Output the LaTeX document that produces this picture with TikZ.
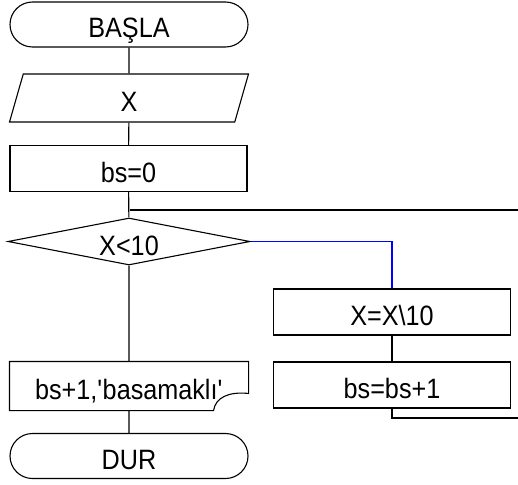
\documentclass[tikz,border=0pt]{standalone}
\usepackage{fontspec}
\setmainfont{Liberation Sans}[FakeStretch=0.9]
\usetikzlibrary{shapes}

\begin{document}
\begin{tikzpicture}[x=1pt, y=1pt, line width=1.1pt,
		every node/.style={font=\fontsize{28}{32}\selectfont, inner sep=0pt, text height=27pt, text depth=0pt},
		terminal/.style={draw, rounded rectangle, minimum width=238pt, minimum height=45pt},
		io/.style={draw, trapezium, trapezium left angle=63, trapezium right angle=117, trapezium stretches body, minimum width=239pt, minimum height=48pt},
		process/.style={draw, rectangle, minimum width=237pt, minimum height=46pt},
		decision/.style={draw, diamond, aspect=5.1, minimum width=242pt, minimum height=47pt},
		document/.style={rectangle, minimum width=238pt, minimum height=48pt}]
		\useasboundingbox (0, 0) rectangle (518, -484);
		\clip (0, 0) rectangle (518, -484);

		\node[terminal] (start) at (129, -24.5) {BAŞLA};
		\node[io] (input) at (129, -98) {X};
		\node[process] (init) at (128.5, -168.5) {bs=0};
		\node[decision] (cond) at (129, -241.5) {X<10};
		\node[process] (divide) at (392, -312) {X=X\textbackslash 10};
		\node[process] (count) at (392, -385) {bs=bs+1};
		\node[document] (out) at (129, -386) {bs+1,\textquotesingle basamaklı\textquotesingle};
		\node[terminal] (stop) at (129, -456) {DUR};
		\coordinate (join) at (130, -210);
		\coordinate (back) at (540, -418);

		\draw (out.north west) -- (out.north east) -- ([yshift=-32pt]out.north east)
			.. controls ([xshift=-20pt, yshift=-30pt]out.north east) and ([xshift=-33pt, yshift=-36pt]out.north east) .. ([xshift=-35pt]out.south east)
			-- (out.south west) -- cycle;

		\draw (start) -- (input) -- (init) -- (cond) -- (out) -- (stop);
		\draw[blue] (cond.east) -| (divide.north);
		\draw (divide) -- (count);
		\draw (count.south) |- (back) |- (join);
	\end{tikzpicture}
\end{document}
